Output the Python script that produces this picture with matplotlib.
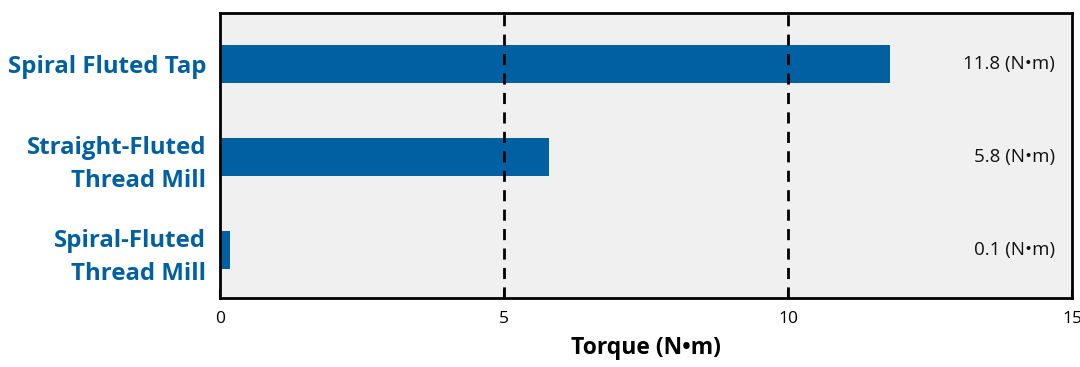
import numpy as np
import matplotlib.pyplot as plt

# data
tools = ["Spiral Fluted Tap", "Straight-Fluted\nThread Mill", "Spiral-Fluted\nThread Mill"]
torque = [11.8, 5.8, 0.17]
value_labels = ["11.8 (N\u2022m)", "5.8 (N\u2022m)", "0.1 (N\u2022m)"]
ref_lines = [5, 10]
xticks = [0, 5, 10, 15]

blue = "#0060A2"
plt.rcParams['font.family'] = ['Open Sans', 'DejaVu Sans']

fig = plt.figure(figsize=(10.8, 3.67), dpi=100)
ax = fig.add_axes([0.2037, 0.188, 0.7889, 0.7766])
ax.set_facecolor("#F0F0F0")

y = np.arange(len(tools))
ax.barh(y, torque, height=0.41, color=blue, zorder=2)
for x in ref_lines:
    ax.axvline(x, color="black", lw=2, ls=(0, (4, 3)), zorder=3)

for yi, lab in zip(y, value_labels):
    ax.text(14.7, yi, lab, ha="right", va="center", fontsize=13.5, color="#111111")

ax.set_xlim(0, 15)
ax.set_ylim(2.52, -0.55)
ax.set_xticks(xticks)
ax.set_xticklabels([str(t) for t in xticks], fontsize=12.5)
ax.tick_params(axis="x", direction="in", length=6, width=1.5, pad=9)
ax.set_yticks(y)
ax.set_yticklabels(tools, fontsize=17.3, fontweight="bold", color=blue, linespacing=1.5)
ax.tick_params(axis="y", length=0, pad=10)
ax.set_xlabel("Torque (N\u2022m)", fontsize=16.5, fontweight="bold", labelpad=7)
for s in ax.spines.values():
    s.set_linewidth(2)

plt.savefig("out.png", dpi=100)
plt.close()
